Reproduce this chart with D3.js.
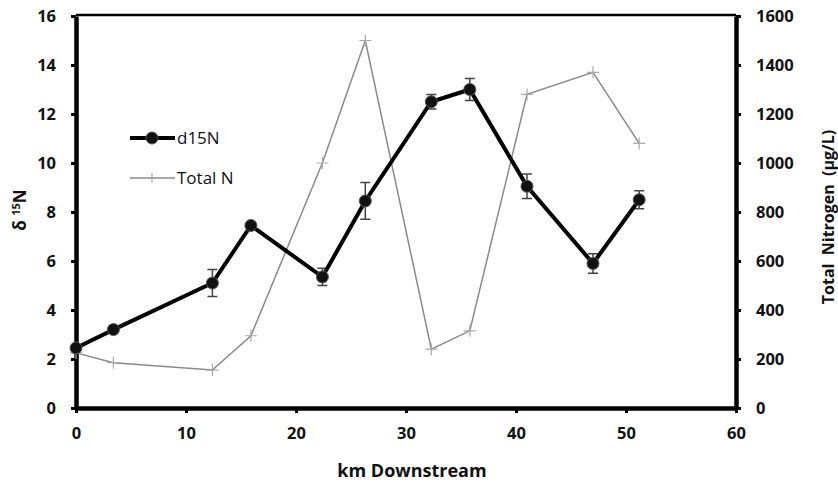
<!DOCTYPE html>
<html><head><meta charset="utf-8">
<script src="https://cdn.jsdelivr.net/npm/d3@7"></script>
<style>
body{margin:0;background:#fff;}
text{font-family:"Open Sans",sans-serif;font-weight:700;fill:#111;}
</style></head>
<body><svg id="c" width="838" height="483"></svg>
<script>
const km = [0, 3.4, 12.4, 15.9, 22.4, 26.3, 32.3, 35.8, 41.0, 47.0, 51.2];
const d15N = [2.45, 3.2, 5.1, 7.45, 5.35, 8.45, 12.5, 13.0, 9.05, 5.9, 8.5];
const d15NErr = [0.1, 0.1, 0.55, 0.1, 0.35, 0.75, 0.3, 0.45, 0.5, 0.4, 0.37];
const totalN = [225, 185, 155, 295, 1000, 1500, 240, 315, 1280, 1370, 1080];
const xTicks = [0, 10, 20, 30, 40, 50, 60];
const yLeftTicks = [0, 2, 4, 6, 8, 10, 12, 14, 16];
const yRightTicks = [0, 200, 400, 600, 800, 1000, 1200, 1400, 1600];

const svg = d3.select("#c");
const L = 76, R = 736, T = 16, B = 408;
const x = d3.scaleLinear().domain([0, 60]).range([L, R]);
const yL = d3.scaleLinear().domain([0, 16]).range([B, T]);
const yR = d3.scaleLinear().domain([0, 1600]).range([B, T]);

// top frame line
svg.append("line").attr("x1", L).attr("x2", R).attr("y1", T - 1).attr("y2", T - 1)
  .style("stroke", "#000").style("stroke-width", "2.5px");

function styleAxis(g) {
  g.selectAll(".domain").style("stroke", "#000").style("stroke-width", "4.5px");
  g.selectAll(".tick line").style("stroke", "#000").style("stroke-width", "3px");
  g.selectAll(".tick text").style("font-size", "16.5px").style("font-family", "'Open Sans',sans-serif").style("font-weight", "700").style("fill", "#111");
}
const fmt = d3.format("d");
const gx = svg.append("g").attr("transform", `translate(0,${B})`)
  .call(d3.axisBottom(x).tickValues(xTicks).tickFormat(fmt).tickSize(5).tickSizeOuter(0).tickPadding(14));
styleAxis(gx);
const gl = svg.append("g").attr("transform", `translate(${L},0)`)
  .call(d3.axisLeft(yL).tickValues(yLeftTicks).tickFormat(fmt).tickSize(5).tickSizeOuter(0).tickPadding(15));
styleAxis(gl);
const gr = svg.append("g").attr("transform", `translate(${R},0)`)
  .call(d3.axisRight(yR).tickValues(yRightTicks).tickFormat(fmt).tickSize(5).tickSizeOuter(0).tickPadding(15));
styleAxis(gr);

// Total N line
const dataN = km.map((k, i) => ({k, v: totalN[i]}));
svg.append("path").datum(dataN)
  .attr("d", d3.line().x(d => x(d.k)).y(d => yR(d.v)))
  .attr("fill", "none").attr("stroke", "#8a8a8a").attr("stroke-width", 1.5);
svg.selectAll(".plus").data(dataN).enter().append("path")
  .attr("d", d => `M${x(d.k)-6},${yR(d.v)}H${x(d.k)+6}M${x(d.k)},${yR(d.v)-6}V${yR(d.v)+6}`)
  .attr("stroke", "#aaa").attr("stroke-width", 1.2);

// d15N
const dataD = km.map((k, i) => ({k, v: d15N[i], e: d15NErr[i]}));
const eb = svg.append("g").attr("stroke", "#444").attr("stroke-width", 1.5);
dataD.forEach(d => {
  const cx = x(d.k), y1 = yL(d.v + d.e), y2 = yL(d.v - d.e);
  eb.append("path").attr("d", `M${cx},${y1}V${y2}M${cx-5},${y1}H${cx+5}M${cx-5},${y2}H${cx+5}`);
});
svg.append("path").datum(dataD)
  .attr("d", d3.line().x(d => x(d.k)).y(d => yL(d.v)))
  .attr("fill", "none").attr("stroke", "#000").attr("stroke-width", 4);
svg.selectAll(".dot").data(dataD).enter().append("circle")
  .attr("cx", d => x(d.k)).attr("cy", d => yL(d.v)).attr("r", 6)
  .attr("fill", "#111").attr("stroke", "#555").attr("stroke-width", 1);

// Legend
svg.append("line").attr("x1", 130).attr("x2", 175).attr("y1", 138).attr("y2", 138)
  .attr("stroke", "#000").attr("stroke-width", 4);
svg.append("circle").attr("cx", 152).attr("cy", 138).attr("r", 6).attr("fill", "#111").attr("stroke", "#555");
svg.append("text").attr("x", 177).attr("y", 144).text("d15N")
  .style("font-size", "17px").style("font-weight", "400");
svg.append("line").attr("x1", 130).attr("x2", 175).attr("y1", 178).attr("y2", 178)
  .attr("stroke", "#8a8a8a").attr("stroke-width", 1.5);
svg.append("path").attr("d", "M147,178H157M152,173V183").attr("stroke", "#aaa").attr("stroke-width", 1.2);
svg.append("text").attr("x", 177).attr("y", 184).text("Total N")
  .style("font-size", "17px").style("font-weight", "400");

// Axis titles
svg.append("text").attr("x", 412).attr("y", 477).attr("text-anchor", "middle")
  .style("font-size", "18px").text("km Downstream");
const lt = svg.append("text").attr("transform", "translate(26,210) rotate(-90)")
  .attr("text-anchor", "middle").style("font-size", "17px");
lt.append("tspan").text("δ ");
lt.append("tspan").attr("dy", -6).style("font-size", "11px").text("15");
lt.append("tspan").attr("dy", 6).text("N");
svg.append("text").attr("transform", "translate(834,217) rotate(-90)")
  .attr("text-anchor", "middle").style("font-size", "16px")
  .attr("xml:space", "preserve").text("Total  Nitrogen  (µg/L)");
</script></body></html>
